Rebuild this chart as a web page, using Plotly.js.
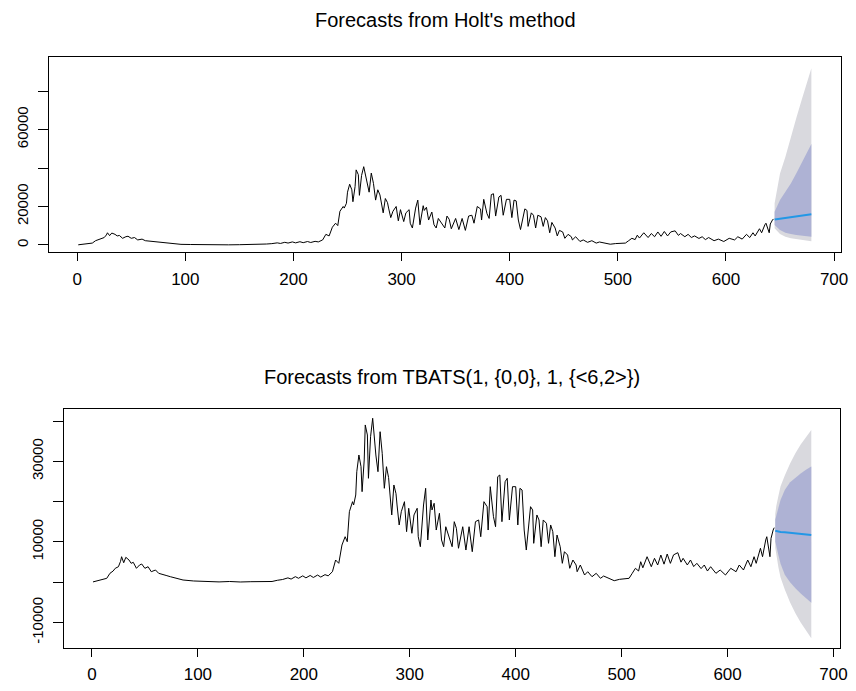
<!DOCTYPE html>
<html>
<head>
<meta charset="utf-8">
<script src="https://cdn.plot.ly/plotly-3.0.1.min.js"></script>
<style>
html,body{margin:0;padding:0;background:#fff;}
#chart{width:856px;height:691px;}
</style>
</head>
<body>
<div id="chart"></div>
<script>
const histDay = [1,4,8,11,14,17,20,22,25,27,28,30,32,35,37,39,42,45,47,50,53,56,60,63,67,70,74,80,86,96,105,112,120,130,140,150,160,170,175,180,185,188,192,195,199,202,206,209,213,216,220,223,227,
230,233,236,239,241,243,246,247,249,250,252,254,255,257,258,260,261,263,265,268,270,272,274,276,278,280,283,285,287,288,290,292,295,297,299,302,304,307,308,310,313,315,317,320,321,323,325,328,330,332,334,335,338,340,342,344,346,350,353,356,359,362,365,367,370,373,374,376,379,381,383,385,387,390,392,394,397,400,402,404,406,408,410,414,416,417,420,422,424,426,429,431,433,435,437,439,442,444,446,449,451,454,457,458,461,465,468,472,476,480,483,488,493,498,502,507,510,513,516,518,520,524,528,531,534,537,540,543,546,549,553,556,558,562,565,568,571,575,578,581,584,589,593,598,603,608,611,615,619,622,625,627,631,633,636,637,640,641,643,644];
const histValue = [100,300,570,700,990,2230,2800,3470,3870,5200,6350,4860,6200,5530,4710,4960,3470,4300,4540,3470,3870,2630,3050,2230,2000,1700,1390,990,570,330,250,150,100,200,80,150,250,200,500,700,1100,800,1400,1000,1600,1100,1700,1200,1800,1300,1900,1600,2630,
5530,4710,9250,11310,10070,17520,20000,19180,21660,27440,31580,28680,22480,30340,39030,36540,25800,36120,40690,31580,27440,37360,32000,23320,28680,26000,16700,24140,22000,19180,14220,17520,20000,12560,18360,12160,16700,18360,11310,8830,19180,23320,10500,20420,17940,19600,12970,17120,10500,8830,13790,12970,10070,8830,15040,13400,8440,13790,8010,13790,7590,15040,15460,11310,20000,18760,12970,23720,16280,13790,26200,26620,15040,24960,25800,15460,23720,23720,14220,23320,22900,12970,8010,18760,17940,9670,16700,15460,8830,15460,14640,9670,14220,12560,6350,11730,8830,4710,7590,6770,3470,5530,4290,2630,4290,1810,2630,1390,2230,990,1560,990,400,740,820,990,2230,3470,2800,5110,3600,6350,3870,5950,4290,6770,4500,7020,4700,6800,7350,5000,5950,4300,5530,3900,4710,3400,4290,2800,3870,2230,3050,1810,3470,2630,4290,3050,5530,3870,6350,4710,8440,6350,10500,11310,6350,10900,12970,13550];

// Holt's method forecast
const holtDay  = [645,650,655,660,665,670,675,679];
const holtMean = [13300,13700,14100,14500,14900,15300,15600,15950];
const holtHi80 = [17300,23400,27700,32000,37200,42400,47600,52500];
const holtLo80 = [10400,7800,6400,5700,5200,4850,4500,4300];
const holtHi95 = [21700,37200,45900,56300,65800,75300,84000,91800];
const holtLo95 = [8700,5700,4300,3500,3000,2600,2250,1900];

// TBATS forecast
const tbatsDay  = [645,646,648,650,654,659,664,669,674,679];
const tbatsMean = [12800,12700,12600,12500,12400,12300,12200,12000,11900,11750];
const tbatsHi80 = [15500,16800,18500,20400,22900,24800,26000,27000,27900,28700];
const tbatsLo80 = [10100,8600,6700,4600,1900,0,-1500,-2800,-4000,-5100];
const tbatsHi95 = [17000,19000,21500,23800,26500,29500,32000,34200,36000,37800];
const tbatsLo95 = [8600,6400,3700,1200,-1800,-5000,-7700,-10000,-12000,-13900];

const xTicks = [0,100,200,300,400,500,600,700];
const y1Ticks = [0,20000,40000,60000,80000];
const y1Text  = ['0','20000','','60000',''];
const y2Ticks = [-10000,0,10000,20000,30000,40000];
const y2Text  = ['-10000','','10000','','30000',''];

const FONT = '"Liberation Sans", Arial, Helvetica, sans-serif';
const C95 = '#d9d9de', C80 = '#aeb2d4', CLINE = '#2297e6';

function band(day, lo, hi, color, xa, ya){
  return {x: day.concat(day.slice().reverse()), y: hi.concat(lo.slice().reverse()),
    type:'scatter', mode:'lines', fill:'toself', fillcolor:color, line:{width:0, color:color},
    xaxis:xa, yaxis:ya, hoverinfo:'skip', showlegend:false};
}
function line(x, y, color, xa, ya, w){
  return {x:x, y:y, type:'scatter', mode:'lines', line:{color:color, width:w}, xaxis:xa, yaxis:ya, showlegend:false};
}

const traces = [
  band(holtDay, holtLo95, holtHi95, C95, 'x', 'y'),
  band(holtDay, holtLo80, holtHi80, C80, 'x', 'y'),
  line(histDay, histValue, '#000', 'x', 'y', 1),
  line(holtDay, holtMean, CLINE, 'x', 'y', 2),
  band(tbatsDay, tbatsLo95, tbatsHi95, C95, 'x2', 'y2'),
  band(tbatsDay, tbatsLo80, tbatsHi80, C80, 'x2', 'y2'),
  line(histDay, histValue, '#000', 'x2', 'y2', 1),
  line(tbatsDay, tbatsMean, CLINE, 'x2', 'y2', 2)
];

function xax(domain, anchor){
  return {domain:domain, anchor:anchor, range:[-26.1,706.1], tickvals:xTicks, ticktext:xTicks.map(String),
    ticks:'outside', ticklen:8, tickcolor:'#000', tickwidth:1, showline:true, linecolor:'#000', linewidth:1, mirror:true,
    showgrid:false, zeroline:false, tickfont:{family:FONT, size:17, color:'#000'}, ticklabelstandoff:3, automargin:false};
}
function yax(domain, anchor, range, tv, tt){
  return {domain:domain, anchor:anchor, range:range, tickvals:tv, ticktext:tt,
    ticks:'outside', ticklen:10, tickcolor:'#000', tickwidth:1, showline:true, linecolor:'#000', linewidth:1, mirror:true,
    showgrid:false, zeroline:false, tickangle:-90, tickfont:{family:FONT, size:15, color:'#000'}, ticklabelstandoff:4, automargin:false};
}

const layout = {
  width:856, height:691, margin:{l:0, r:0, t:0, b:0},
  paper_bgcolor:'#fff', plot_bgcolor:'#fff', showlegend:false,
  font:{family:FONT, color:'#000'},
  xaxis: xax([0.0572,0.9821],'y'),
  yaxis: yax([0.6349,0.9175],'x',[-3790,97670], y1Ticks, y1Text),
  xaxis2: xax([0.0751,0.9813],'y2'),
  yaxis2: yax([0.0622,0.4077],'x2',[-16300,42920], y2Ticks, y2Text),
  annotations:[
    {text:"Forecasts from Holt's method", xref:'paper', yref:'paper', x:0.52, y:1-20/691, xanchor:'center', yanchor:'middle', showarrow:false, font:{family:FONT, size:20, color:'#000'}},
    {text:"Forecasts from TBATS(1, {0,0}, 1, {<6,2>})", xref:'paper', yref:'paper', x:0.528, y:1-377/691, xanchor:'center', yanchor:'middle', showarrow:false, font:{family:FONT, size:20, color:'#000'}}
  ]
};

Plotly.newPlot('chart', traces, layout, {staticPlot:true, displayModeBar:false});
</script>
</body>
</html>
